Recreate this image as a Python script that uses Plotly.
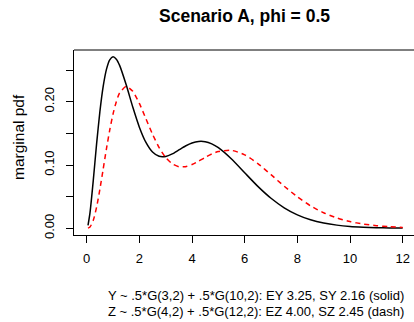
import plotly.graph_objects as go

# x grid and values
x_vals = [0.05, 0.125, 0.25, 0.375, 0.5, 0.625, 0.75, 0.875, 1.0, 1.125, 1.25, 1.5, 1.75, 2.0, 2.25, 2.5,
          2.75, 3.0, 3.25, 3.5, 3.75, 4.0, 4.25, 4.5, 4.75, 5.0, 5.5, 6.0, 6.5, 7.0, 7.5,
          8.0, 8.5, 9.0, 9.5, 10.0, 10.5, 11.0, 11.5, 12.0]
y_solid = [0.0045, 0.0243, 0.0758, 0.1329, 0.1839, 0.2238, 0.2510, 0.2662, 0.2709, 0.2672, 0.2574, 0.2267,
           0.1915, 0.1598, 0.1357, 0.1205, 0.1137, 0.1135, 0.1176, 0.1238, 0.1300, 0.1348,
           0.1372, 0.1368, 0.1334, 0.1274, 0.1095, 0.0878, 0.0662, 0.0474, 0.0324,
           0.0213, 0.0135, 0.0083, 0.0050, 0.0029, 0.0017, 0.0009, 0.0005, 0.0003]
z_dash = [0.0002, 0.0020, 0.0126, 0.0332, 0.0613, 0.0933, 0.1255, 0.1552, 0.1805, 0.2001, 0.2138, 0.2243,
          0.2165, 0.1973, 0.1730, 0.1486, 0.1276, 0.1118, 0.1018, 0.0973, 0.0974, 0.1008,
          0.1061, 0.1120, 0.1174, 0.1213, 0.1231, 0.1161, 0.1023, 0.0847, 0.0665,
          0.0497, 0.0355, 0.0245, 0.0164, 0.0106, 0.0067, 0.0041, 0.0025, 0.0014]

x_ticks = [0, 2, 4, 6, 8, 10, 12]
y_ticks = [0.0, 0.05, 0.10, 0.15, 0.20, 0.25]
y_ticklabels = ["0.00", "", "0.10", "", "0.20", ""]

title_text = "Scenario A, phi = 0.5"
y_title = "marginal pdf"
caption1 = "Y ~ .5*G(3,2) + .5*G(10,2): EY 3.25, SY 2.16 (solid)"
caption2 = "Z ~ .5*G(4,2) + .5*G(12,2): EZ 4.00, SZ 2.45 (dash)"

FONT = "Liberation Sans, Arial, sans-serif"

fig = go.Figure()
fig.add_trace(go.Scatter(x=x_vals, y=y_solid, mode="lines",
                         line=dict(color="black", width=1.5, shape="spline", smoothing=0.6),
                         showlegend=False, hoverinfo="skip"))
fig.add_trace(go.Scatter(x=x_vals, y=z_dash, mode="lines",
                         line=dict(color="#FF0000", width=1.5, dash="5px,4px", shape="spline", smoothing=0.6),
                         showlegend=False, hoverinfo="skip"))

L, T, B = 74, 50, 235
W, H = 414, 322
ph = B - T
pw = W - L

fig.update_layout(
    width=W, height=H,
    margin=dict(l=L, r=0, t=T, b=H - B, pad=0),
    paper_bgcolor="white", plot_bgcolor="white",
    font=dict(family=FONT, color="black", size=13),
    showlegend=False,
    xaxis=dict(range=[-0.482, 12.43], tickvals=x_ticks, ticktext=[str(v) for v in x_ticks],
               showgrid=False, zeroline=False, showline=True, linecolor="black", linewidth=1,
               ticks="outside", ticklen=7, tickcolor="black", tickwidth=1,
               tickfont=dict(size=13), ticklabelstandoff=4, mirror=False),
    yaxis=dict(range=[-0.0106, 0.2817], tickvals=y_ticks, ticktext=y_ticklabels,
               showgrid=False, zeroline=False, showline=True, linecolor="black", linewidth=1,
               ticks="outside", ticklen=7, tickcolor="black", tickwidth=1,
               tickangle=-90, tickfont=dict(size=13), ticklabelstandoff=7, mirror=False),
    shapes=[dict(type="line", xref="paper", yref="paper", x0=0, x1=1, y0=1, y1=1,
                 line=dict(color="black", width=1))],
    annotations=[
        dict(text="<b>" + title_text + "</b>", xref="paper", yref="paper",
             x=(244 - L) / pw, y=1 + (T - 16) / ph, xanchor="center", yanchor="middle",
             showarrow=False, font=dict(size=17.5)),
        dict(text=y_title, xref="paper", yref="paper", textangle=-90,
             x=(18 - L) / pw, y=(B - 137) / ph, xanchor="center", yanchor="middle",
             showarrow=False, font=dict(size=15.5)),
        dict(text=caption1, xref="paper", yref="paper",
             x=(256 - L) / pw, y=-(295 - B) / ph, xanchor="center", yanchor="middle",
             showarrow=False, font=dict(size=13)),
        dict(text=caption2, xref="paper", yref="paper",
             x=(256 - L) / pw, y=-(311 - B) / ph, xanchor="center", yanchor="middle",
             showarrow=False, font=dict(size=13)),
    ],
)

fig.write_html("out.html")
